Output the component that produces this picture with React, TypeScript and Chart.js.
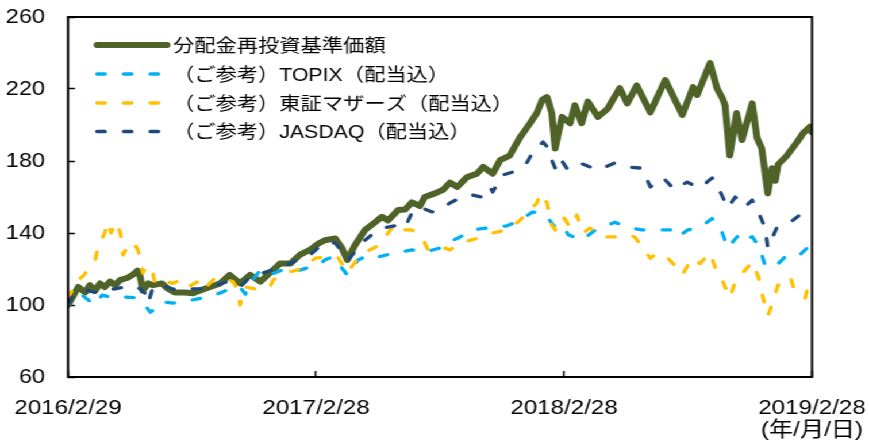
import React, { useEffect, useRef } from "react";
import { Chart, registerables } from "chart.js";

Chart.register(...registerables);

// x values are calendar days since 2016/2/29
const tickDays = [0, 365, 730, 1095];
const tickLabels: (string | string[])[] = ["2016/2/29", "2017/2/28", "2018/2/28", ["2019/2/28", "(年/月/日)"]];
const yTicks = [60, 100, 140, 180, 220, 260];

const seriesNames = [
  "分配金再投資基準価額",
  "（ご参考）TOPIX（配当込）",
  "（ご参考）東証マザーズ（配当込）",
  "（ご参考）JASDAQ（配当込）",
];

const fundDays = [0, 6, 15, 25, 32, 40, 47, 54, 62, 69, 77, 87, 96, 102, 106, 110, 118, 125, 138, 147, 157, 172, 184, 194, 209, 224, 238, 253, 268, 283, 297, 312, 327, 341, 356, 368, 378, 393, 403, 411, 422, 437, 452, 462, 471, 486, 496, 506, 518, 525, 540, 552, 562, 573, 587, 602, 611, 625, 636, 650, 665, 680, 690, 698, 705, 712, 717, 727, 739, 746, 756, 765, 780, 794, 812, 823, 837, 857, 879, 904, 920, 926, 945, 955, 963, 967, 974, 984, 992, 1007, 1014, 1021, 1030, 1036, 1041, 1045, 1058, 1073, 1082, 1092, 1095];
const fundVals = [100, 104, 110, 107, 111, 108, 112, 110, 113, 111, 114, 115, 117, 119, 116, 108, 112, 111, 112, 109, 107, 107, 106.5, 108, 110, 112, 116.7, 112, 116.7, 113, 117.8, 123, 123, 127.8, 130.6, 134, 136, 137, 131.7, 125, 133, 141.7, 146, 149, 147, 152.8, 153, 157, 155, 160, 162, 164, 168, 165.6, 171, 173, 176.7, 173, 180.5, 183, 193, 201, 206.7, 214, 215.5, 206.7, 187, 204.5, 201, 211, 201, 213, 204.5, 209, 220.5, 212, 222, 207, 225, 205.6, 221, 216.7, 234.4, 220.6, 215, 211, 183, 206.7, 191.7, 212, 193, 187, 162, 176, 169, 178, 183, 190.5, 195.5, 199, 196];

const topixDays = [0, 3, 10, 21, 29, 40, 50, 66, 84, 99, 113, 121, 125, 138, 155, 172, 184, 199, 224, 238, 253, 261, 268, 283, 297, 312, 327, 341, 356, 368, 378, 389, 400, 411, 427, 442, 456, 481, 506, 525, 551, 558, 577, 596, 621, 646, 665, 684, 699, 705, 717, 729, 736, 756, 776, 805, 824, 845, 867, 889, 898, 912, 930, 948, 955, 963, 971, 985, 989, 1007, 1018, 1026, 1033, 1043, 1058, 1077, 1088, 1095];
const topixVals = [100, 105.5, 104, 105.5, 103, 100, 105.5, 104, 104.4, 104, 100, 96, 97, 101.7, 101, 102.8, 102.8, 104, 106.7, 109, 110, 106, 112, 119.4, 116.7, 119, 120.5, 119.4, 121, 122, 125, 126.7, 122, 116.7, 125, 127.8, 126.7, 128.9, 130.6, 129.4, 132, 134.4, 137.8, 141.7, 143, 144, 147, 151.7, 150, 149, 143, 144, 139, 136, 141.7, 146, 143, 141.7, 141.7, 141.7, 137.8, 141.7, 143, 148, 144, 140, 131.7, 138, 135, 138, 131.7, 122, 123, 122, 127.8, 127.8, 131.7, 132];

const mothersDays = [0, 6, 10, 21, 29, 40, 44, 54, 59, 63, 71, 77, 81, 87, 96, 103, 110, 116, 124, 128, 138, 153, 168, 177, 190, 199, 216, 234, 243, 250, 253, 261, 283, 297, 302, 319, 337, 346, 364, 383, 397, 411, 425, 437, 452, 462, 471, 481, 492, 506, 521, 530, 540, 552, 562, 577, 592, 611, 625, 646, 665, 680, 690, 695, 699, 705, 712, 717, 727, 731, 739, 749, 758, 768, 786, 805, 823, 834, 846, 857, 868, 883, 893, 904, 918, 930, 945, 955, 964, 974, 982, 993, 1007, 1016, 1021, 1030, 1036, 1045, 1063, 1070, 1085, 1089];
const mothersVals = [104, 108, 112.8, 115.6, 119.4, 125, 132, 140, 146, 140, 146, 140, 127.8, 132, 135, 130.6, 117.8, 122, 119.4, 112, 113.9, 112, 113.9, 110, 112.8, 108.3, 115, 113.9, 113, 108, 100, 110, 108.3, 110, 113.9, 117.8, 119.4, 120.5, 126, 126.7, 126.7, 118, 125, 129.4, 132, 135, 140, 145, 141.7, 141.7, 137.8, 130.6, 131.7, 132, 130.6, 134.4, 136, 137.8, 140, 141.7, 147, 152.8, 156.7, 162, 160, 156.7, 144.4, 141.7, 149, 148, 143, 150, 140, 142.8, 137.8, 137.8, 139, 137.8, 132, 126, 129, 126, 122, 116.7, 126, 123, 129, 118, 112.8, 104, 112.8, 117.8, 123.9, 115.6, 107, 94, 100, 111, 115.6, 107, 104, 110];

const jasdaqDays = [0, 10, 25, 40, 54, 69, 84, 102, 113, 118, 125, 138, 153, 165, 184, 205, 224, 243, 256, 268, 287, 308, 327, 341, 356, 368, 383, 393, 405, 412, 427, 437, 456, 467, 481, 496, 508, 521, 536, 552, 562, 577, 596, 609, 621, 625, 640, 655, 676, 684, 695, 699, 705, 712, 717, 724, 734, 749, 761, 780, 805, 824, 845, 857, 876, 893, 911, 930, 948, 960, 971, 982, 996, 1007, 1016, 1026, 1030, 1043, 1063, 1077, 1085];
const jasdaqVals = [101, 106.7, 108.3, 107, 108.3, 109, 110, 110, 106.7, 101, 110, 111, 109, 108.3, 109, 109, 111.7, 113.9, 111, 115.6, 117.8, 120.5, 123, 126, 127.8, 131.7, 135, 134.4, 128.9, 125, 131.7, 136, 141.7, 143, 144, 143, 152.8, 153.9, 151.7, 153.9, 156.7, 159.4, 161, 160, 165.6, 162.8, 172.2, 173.9, 179.4, 185, 188.9, 190.6, 188, 180.5, 176, 181.7, 176, 179.4, 177.8, 175, 178.9, 176.7, 176, 165.6, 170.6, 164, 168.3, 165, 170.6, 162.8, 153.9, 160, 154.4, 158.3, 151.7, 142.8, 131.7, 142.8, 146, 150, 150];

const COLORS = ["#4F6228", "#00B0F0", "#FFC000", "#1F497D"];
const WIDTHS = [6, 3.3, 3.3, 3.3];
const DASH = [7, 16.2];

const STRETCH = 1.1495;
const CW = 756;
const CH = 441;
const FONT = "'Liberation Sans', Arial, 'Noto Sans CJK JP', sans-serif";

const toPts = (d: number[], v: number[]) => d.map((x, i) => ({ x, y: v[i] }));

const framePlugin = {
  id: "frameAndLegend",
  afterDraw(chart: any) {
    const { ctx, chartArea } = chart;
    const { left, top, right, bottom } = chartArea;
    ctx.save();
    ctx.strokeStyle = "#000";
    ctx.lineWidth = 2;
    ctx.strokeRect(left, top, right - left, bottom - top);
    // legend inside plot
    const rowY = [45, 74, 103, 131.5];
    const x0 = 84.4;
    const x1 = 145.3;
    ctx.font = `18.5px ${FONT}`;
    ctx.textBaseline = "middle";
    ctx.textAlign = "left";
    seriesNames.forEach((name, i) => {
      ctx.beginPath();
      ctx.strokeStyle = COLORS[i];
      ctx.lineWidth = WIDTHS[i];
      ctx.lineCap = "round";
      ctx.setLineDash(i === 0 ? [] : DASH);
      ctx.moveTo(x0, rowY[i]);
      ctx.lineTo(x1, rowY[i]);
      ctx.stroke();
      ctx.setLineDash([]);
      ctx.fillStyle = "#000";
      ctx.fillText(name, 150.5, rowY[i] + 1.5);
    });
    ctx.restore();
  },
};

export default function App() {
  const ref = useRef<HTMLCanvasElement | null>(null);
  useEffect(() => {
    if (!ref.current) return;
    const mk = (i: number, data: { x: number; y: number }[]) => ({
      label: seriesNames[i],
      data,
      borderColor: COLORS[i],
      backgroundColor: COLORS[i],
      borderWidth: WIDTHS[i],
      borderDash: i === 0 ? [] : DASH,
      borderCapStyle: "round" as const,
      borderJoinStyle: "round" as const,
      pointRadius: 0,
      tension: 0,
      fill: false,
      order: 4 - i,
    });
    const chart = new Chart(ref.current, {
      type: "line",
      data: {
        datasets: [
          mk(0, toPts(fundDays, fundVals)),
          mk(1, toPts(topixDays, topixVals)),
          mk(2, toPts(mothersDays, mothersVals)),
          mk(3, toPts(jasdaqDays, jasdaqVals)),
        ],
      },
      options: {
        animation: false,
        responsive: true,
        maintainAspectRatio: false,
        layout: { padding: { top: 17, right: CW - 706.4, left: 0, bottom: 0 } },
        plugins: { legend: { display: false }, tooltip: { enabled: false } },
        scales: {
          x: {
            type: "linear",
            min: 0,
            max: 1095,
            border: { display: false },
            grid: { display: true, drawOnChartArea: false, drawTicks: true, tickLength: -6, tickColor: "#000", tickWidth: 1.5 },
            afterBuildTicks: (s: any) => {
              s.ticks = tickDays.map((v) => ({ value: v }));
            },
            afterFit: (s: any) => {
              s.height = CH - 377;
              s.paddingLeft = 0;
              s.paddingRight = 0;
            },
            ticks: {
              autoSkip: false,
              maxRotation: 0,
              minRotation: 0,
              padding: 26,
              color: "#000",
              font: { family: FONT, size: 21, lineHeight: 1.05 },
              callback: (v: any) => {
                const i = tickDays.indexOf(Number(v));
                return i >= 0 ? tickLabels[i] : "";
              },
            },
          },
          y: {
            min: 60,
            max: 260,
            border: { display: false },
            grid: { display: true, drawOnChartArea: false, drawTicks: true, tickLength: -6, tickColor: "#000", tickWidth: 1.5 },
            afterBuildTicks: (s: any) => {
              s.ticks = yTicks.map((v) => ({ value: v }));
            },
            afterFit: (s: any) => {
              s.width = 59.2;
              s.paddingTop = 0;
              s.paddingBottom = 0;
            },
            ticks: {
              padding: 26,
              color: "#000",
              font: { family: FONT, size: 20.5 },
            },
          },
        },
      },
      plugins: [framePlugin],
    });
    return () => chart.destroy();
  }, []);
  return (
    <div
      style={{
        position: "absolute",
        left: 0,
        top: 0,
        width: CW,
        height: CH,
        transform: `scaleX(${STRETCH})`,
        transformOrigin: "0 0",
        background: "#fff",
      }}
    >
      <canvas ref={ref} />
    </div>
  );
}
